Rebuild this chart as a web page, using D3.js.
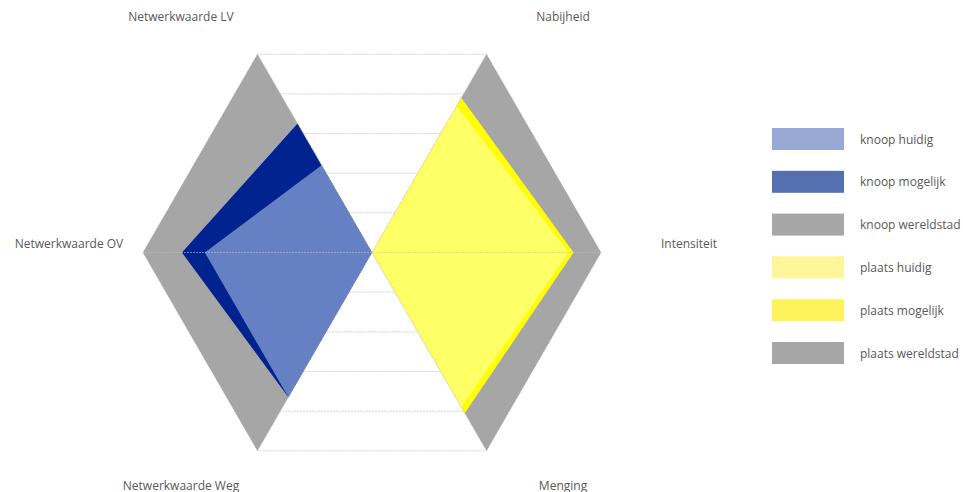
<!DOCTYPE html>
<html lang="nl">
<head>
    <meta charset="utf-8">
    <title>Radar knoop / plaats</title>
    <script src="https://d3js.org/d3.v7.min.js"></script>
    <style>
        body { margin: 0; background: #fff; }
        text { font-family: "Open Sans", "Noto Sans", sans-serif; font-size: 12px; fill: #595959; }
    </style>
</head>
<body>
<svg width="963" height="492"></svg>
<script>
    // assen, met de klok mee vanaf rechtsboven
    var categories = ["Nabijheid", "Intensiteit", "Menging", "Netwerkwaarde Weg", "Netwerkwaarde OV", "Netwerkwaarde LV"];

    var knoopHuidig      = [0, 0, 0, 7.3, 7.3, 4.4];
    var knoopMogelijk    = [0, 0, 0, 7.3, 8.3, 6.5];
    var knoopWereldstad  = [0, 0, 0, 10, 10, 10];
    var plaatsHuidig     = [7.4, 8.6, 7.8, 0, 0, 0];
    var plaatsMogelijk   = [7.8, 8.8, 8.1, 0, 0, 0];
    var plaatsWereldstad = [10, 10, 10, 0, 0, 0];

    var seriesNames = ["knoop huidig", "knoop mogelijk", "knoop wereldstad", "plaats huidig", "plaats mogelijk", "plaats wereldstad"];
    var seriesValues = [knoopHuidig, knoopMogelijk, knoopWereldstad, plaatsHuidig, plaatsMogelijk, plaatsWereldstad];
    var levels = [2, 4, 6, 8, 10];

    // kleuren: vlak in de grafiek en blokje in de legenda
    var fillColors = ["#6680c4", "#002390", "#a6a6a6", "#ffff66", "#ffff00", "#a6a6a6"];
    var legendColors = ["#98a9d6", "#5570b0", "#a6a6a6", "#fff69a", "#fff35b", "#a6a6a6"];
    var drawOrder = [2, 5, 1, 4, 0, 3];

    var cx = 372, cy = 252.5, R = 229;
    var svg = d3.select("svg");

    var r = d3.scaleLinear().domain([0, 10]).range([0, R]);
    var angle = d3.scalePoint()
        .domain(categories)
        .range([Math.PI / 6, Math.PI / 6 + 2 * Math.PI * 5 / 6]);

    var g = svg.append("g").attr("transform", "translate(" + cx + "," + cy + ")");

    var radial = d3.lineRadial()
        .angle(function(d, i){ return angle(categories[i]); })
        .radius(function(d){ return r(d); })
        .curve(d3.curveLinearClosed);

    // rasterringen
    g.selectAll(".ring")
        .data(levels)
        .enter()
        .append("path")
        .attr("class", "ring")
        .attr("d", function(l){ return radial(categories.map(function(){ return l; })); })
        .attr("fill", "none")
        .attr("stroke", "#d4d4d4")
        .attr("stroke-dasharray", "2,1");

    // vlakken
    g.selectAll(".area")
        .data(drawOrder)
        .enter()
        .append("path")
        .attr("class", "area")
        .attr("d", function(i){ return radial(seriesValues[i]); })
        .attr("fill", function(i){ return fillColors[i]; });

    // spaken
    g.selectAll(".spoke")
        .data(categories)
        .enter()
        .append("line")
        .attr("class", "spoke")
        .attr("x2", function(c){ return Math.sin(angle(c)) * r(10); })
        .attr("y2", function(c){ return -Math.cos(angle(c)) * r(10); })
        .attr("stroke", "#bfbfbf")
        .attr("stroke-opacity", 0.6)
        .attr("stroke-dasharray", "2,1");

    // aslabels (Excel zet ze ver naar buiten, zijlabels iets hoger)
    function labelPos(c){
        var a = angle(c) + 0.18 * Math.sin(2 * angle(c));
        var side = Math.abs(Math.cos(a)) < 0.01;
        if (side) return { x: Math.sin(a) * 310 + 7, y: -9.5 };
        return { x: Math.sin(a) * 304, y: (Math.cos(a) > 0 ? -1 : 1) * 234.5 - 2 };
    }
    g.selectAll(".axis-label")
        .data(categories)
        .enter()
        .append("text")
        .attr("class", "axis-label")
        .attr("x", function(c){ return labelPos(c).x; })
        .attr("y", function(c){ return labelPos(c).y; })
        .attr("text-anchor", "middle")
        .attr("dominant-baseline", "central")
        .text(function(c){ return c; });

    // legenda
    var legend = svg.append("g").attr("transform", "translate(772,128)");
    var item = legend.selectAll(".item")
        .data(seriesNames)
        .enter()
        .append("g")
        .attr("class", "item")
        .attr("transform", function(d, i){ return "translate(0," + (i * 42.8) + ")"; });
    item.append("rect")
        .attr("width", 72)
        .attr("height", 22)
        .attr("fill", function(d, i){ return legendColors[i]; });
    item.append("text")
        .attr("x", 88)
        .attr("y", 11)
        .attr("dominant-baseline", "central")
        .text(function(d){ return d; });
</script>
</body>
</html>
